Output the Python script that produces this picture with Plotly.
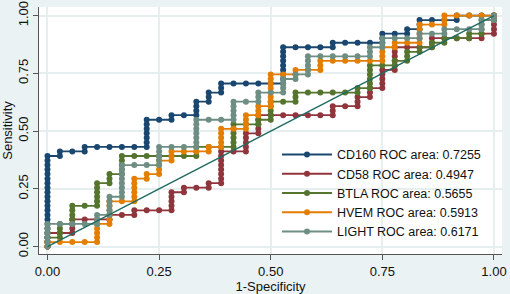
import plotly.graph_objects as go

N_NEG = 36
N_POS = 51

# ROC points as (false-positive count, true-positive count)
cd160_pts = [(0,0),(0,1),(0,2),(0,3),(0,4),(0,5),(0,6),(0,7),(0,8),(0,9),(0,10),(0,11),(0,12),(0,13),(0,14),(0,15),(0,16),(0,17),(0,18),(0,19),(0,20),
             (1,20),(1,21),(2,21),(3,21),(3,22),(4,22),(5,22),(6,22),(7,22),(8,22),(8,23),(8,24),(8,25),(8,26),(8,27),(8,28),
             (9,28),(10,28),(10,29),(11,29),(12,29),(12,30),(12,31),(12,32),(13,32),(13,33),(13,34),(14,34),(14,35),(14,36),
             (15,36),(16,36),(17,36),(18,36),(19,36),(19,37),(19,38),(19,39),(19,40),(19,41),(19,42),(19,43),(19,44),
             (20,44),(21,44),(22,44),(23,44),(23,45),(24,45),(25,45),(26,45),(27,45),(27,46),(27,47),(28,47),(29,47),(29,48),
             (30,48),(30,49),(30,50),(31,50),(32,50),(33,50),(33,51),(34,51),(35,51),(36,51)]

cd58_pts = [(0,0),(0,1),(0,2),(0,3),(1,3),(2,3),(2,4),(2,5),(2,6),(3,6),(4,6),(5,6),(5,7),(6,7),(7,7),(7,8),(8,8),(9,8),(10,8),
            (10,9),(10,10),(10,11),(10,12),(11,12),(11,13),(12,13),(13,13),(13,14),(14,14),(14,15),(14,16),(14,17),(14,18),(14,19),
            (14,20),(14,21),(15,21),(16,21),(16,22),(16,23),(16,24),(16,25),(17,25),(17,26),(17,27),(17,28),(17,29),(18,29),(19,29),
            (20,29),(21,29),(22,29),(23,29),(23,30),(23,31),(24,31),(25,31),(25,32),(25,33),(26,33),(26,34),(26,35),(27,35),(27,36),
            (27,37),(27,38),(27,39),(28,39),(28,40),(28,41),(28,42),(28,43),(28,44),(29,44),(30,44),(31,44),(31,45),(31,46),(32,46),
            (33,46),(34,46),(35,46),(35,47),(36,47),(36,48),(36,49),(36,50),(36,51)]

btla_pts = [(0,0),(0,1),(0,2),(1,2),(1,3),(1,4),(1,5),(2,5),(2,6),(2,7),(2,8),(2,9),(3,9),(4,9),(4,10),(4,11),(4,12),(4,13),(4,14),
            (5,14),(5,15),(5,16),(6,16),(6,17),(6,18),(6,19),(6,20),(7,20),(8,20),(9,20),(10,20),(11,20),(12,20),(12,21),(12,22),
            (13,22),(14,22),(15,22),(15,23),(15,24),(15,25),(15,26),(15,27),(16,27),(17,27),(17,28),(18,28),(18,29),(18,30),(18,31),
            (18,32),(19,32),(20,32),(20,33),(20,34),(21,34),(22,34),(23,34),(24,34),(25,34),(25,35),(26,35),(26,36),(26,37),(26,38),
            (26,39),(26,40),(27,40),(28,40),(28,41),(29,41),(29,42),(29,43),(30,43),(30,44),(31,44),(31,45),(32,45),(32,46),(33,46),
            (34,46),(34,47),(35,47),(35,48),(35,49),(35,50),(36,50),(36,51)]

hvem_pts = [(0,0),(0,1),(1,1),(2,1),(3,1),(4,1),(4,2),(4,3),(4,4),(4,5),(5,5),(5,6),(5,7),(5,8),(5,9),(5,10),(6,10),(7,10),(7,11),
            (7,12),(7,13),(7,14),(7,15),(8,15),(8,16),(9,16),(9,17),(9,18),(9,19),(10,19),(10,20),(10,21),(11,21),(12,21),(13,21),
            (13,22),(14,22),(14,23),(14,24),(14,25),(14,26),(15,26),(16,26),(16,27),(16,28),(16,29),(17,29),(17,30),(17,31),(18,31),
            (18,32),(18,33),(18,34),(18,35),(18,36),(18,37),(18,38),(19,38),(20,38),(20,39),(21,39),(22,39),(22,40),(22,41),(23,41),
            (24,41),(25,41),(26,41),(27,41),(27,42),(27,43),(27,44),(28,44),(28,45),(29,45),(30,45),(30,46),(30,47),(30,48),(30,49),
            (31,49),(32,49),(32,50),(32,51),(33,51),(34,51),(35,51),(36,51)]

light_pts = [(0,0),(0,1),(0,2),(0,3),(0,4),(0,5),(1,5),(2,5),(3,5),(4,5),(4,6),(4,7),(5,7),(5,8),(5,9),(5,10),(5,11),(6,11),(6,12),
             (6,13),(6,14),(6,15),(6,16),(6,17),(6,18),(7,18),(8,18),(9,18),(9,19),(9,20),(9,21),(9,22),(10,22),(11,22),(12,22),
             (12,23),(12,24),(12,25),(12,26),(12,27),(12,28),(13,28),(14,28),(15,28),(15,29),(15,30),(15,31),(15,32),(16,32),(17,32),
             (17,33),(17,34),(18,34),(19,34),(19,35),(19,36),(19,37),(20,37),(20,38),(21,38),(21,39),(21,40),(21,41),(21,42),(22,42),
             (23,42),(24,42),(25,42),(26,42),(26,43),(26,44),(27,44),(27,45),(27,46),(28,46),(29,46),(30,46),(30,47),(31,47),(32,47),
             (32,48),(33,48),(34,48),(35,48),(35,49),(35,50),(36,50),(36,51)]

series_names = ["CD160 ROC area: 0.7255", "CD58 ROC area: 0.4947", "BTLA ROC area: 0.5655",
                "HVEM ROC area: 0.5913", "LIGHT ROC area: 0.6171"]
series_pts = [cd160_pts, cd58_pts, btla_pts, hvem_pts, light_pts]
series_colors = ["#1a476f", "#90353b", "#55752f", "#e37e00", "#6e8e84"]

tick_vals = [0, 0.25, 0.5, 0.75, 1]
tick_text = ["0.00", "0.25", "0.50", "0.75", "1.00"]
ref_line = [0, 1]

FONT = "Liberation Sans, Arial, sans-serif"
BG = "#eaf2f3"
GRID = "#e6eef0"

fig = go.Figure()
for name, pts, col in zip(series_names, series_pts, series_colors):
    fig.add_trace(go.Scatter(
        x=[p[0] / N_NEG for p in pts], y=[p[1] / N_POS for p in pts],
        mode="lines+markers", name=name,
        line=dict(color=col, width=1.8),
        marker=dict(color=col, size=6),
    ))
fig.add_trace(go.Scatter(x=ref_line, y=ref_line, mode="lines", showlegend=False,
                         line=dict(color="#1f6b62", width=1.4), hoverinfo="skip"))

fig.update_layout(
    width=510, height=294,
    margin=dict(l=39, r=8, t=7, b=40),
    paper_bgcolor=BG, plot_bgcolor="white",
    font=dict(family=FONT, size=13, color="#111111"),
    legend=dict(x=0.514, y=0.462, xanchor="left", yanchor="top",
                bgcolor="rgba(0,0,0,0)", borderwidth=0,
                itemwidth=50, tracegroupgap=0,
                font=dict(family=FONT, size=12.5, color="#111111")),
    showlegend=True,
)
fig.update_xaxes(range=[-0.019, 1.018], tickvals=tick_vals, ticktext=tick_text, automargin=False,
                 showgrid=True, gridcolor=GRID, gridwidth=1.5, zeroline=False,
                 showline=True, linecolor="#555555", linewidth=1,
                 ticks="outside", ticklen=5, tickcolor="#555555",
                 title=dict(text="1-Specificity", standoff=0, font=dict(size=13)))
fig.update_yaxes(range=[-0.032, 1.037], tickvals=tick_vals, ticktext=tick_text, automargin=False,
                 showgrid=True, gridcolor=GRID, gridwidth=1.5, zeroline=False,
                 showline=True, linecolor="#555555", linewidth=1,
                 ticks="outside", ticklen=5, tickcolor="#555555", tickangle=-90,
                 title=dict(text="Sensitivity", standoff=0, font=dict(size=13)))

fig.write_html("out.html", config={"displayModeBar": False},
               post_script="document.body.style.margin='0px';")
